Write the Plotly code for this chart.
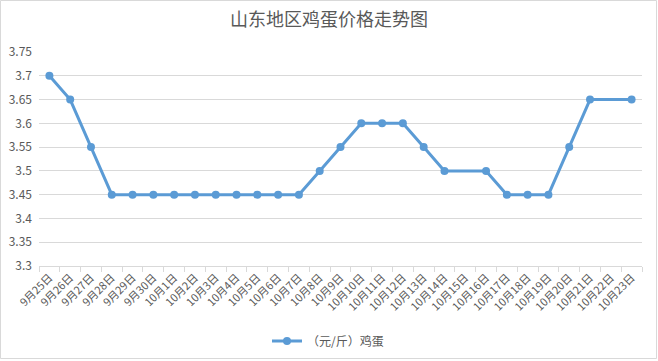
import plotly.graph_objects as go

dates = ["9月25日", "9月26日", "9月27日", "9月28日", "9月29日", "9月30日",
         "10月1日", "10月2日", "10月3日", "10月4日", "10月5日", "10月6日", "10月7日",
         "10月8日", "10月9日", "10月10日", "10月11日", "10月12日", "10月13日",
         "10月14日", "10月15日", "10月16日", "10月17日", "10月18日", "10月19日",
         "10月20日", "10月21日", "10月22日", "10月23日"]
prices = [3.7, 3.65, 3.55, 3.45, 3.45, 3.45,
          3.45, 3.45, 3.45, 3.45, 3.45, 3.45, 3.45,
          3.5, 3.55, 3.6, 3.6, 3.6, 3.55,
          3.5, None, 3.5, 3.45, 3.45, 3.45,
          3.55, 3.65, None, 3.65]
series_name = "（元/斤）鸡蛋"
title_text = "山东地区鸡蛋价格走势图"
y_ticks = [3.3, 3.35, 3.4, 3.45, 3.5, 3.55, 3.6, 3.65, 3.7, 3.75]
y_labels = ["3.3", "3.35", "3.4", "3.45", "3.5", "3.55", "3.6", "3.65", "3.7", "3.75"]

W, H = 658, 361
L, R, T, B = 39, 16, 52, 95
pw, ph = W - L - R, H - T - B

FONT = "Microsoft YaHei, Noto Sans CJK SC, sans-serif"
GREY = "#595959"
LINE = "#d9d9d9"
BLUE = "#5B9BD5"

fig = go.Figure()
fig.add_trace(go.Scatter(
    x=dates, y=prices, name=series_name, mode="lines+markers",
    connectgaps=True,
    line=dict(color=BLUE, width=3),
    marker=dict(color=BLUE, size=8),
    showlegend=True,
))

fig.update_layout(
    width=W, height=H,
    margin=dict(l=L, r=R, t=T, b=B, autoexpand=False),
    paper_bgcolor="white", plot_bgcolor="white",
    font=dict(family=FONT, color=GREY, size=12),
    title=dict(text=title_text, x=0.5, xanchor="center", y=1 - 20 / H, yanchor="middle",
               font=dict(family=FONT, size=18, color=GREY)),
    showlegend=True,
    legend=dict(orientation="h", xref="container", yref="container",
                x=328 / W, xanchor="center",
                y=1 - 341 / H, yanchor="middle",
                font=dict(family=FONT, size=12, color=GREY),
                bgcolor="rgba(0,0,0,0)"),
    xaxis=dict(
        type="category", range=[-0.5, len(dates) - 0.5],
        showgrid=False, showline=True, linecolor=LINE, linewidth=1,
        ticks="outside", tickson="boundaries", ticklen=5, tickcolor=LINE,
        tickangle=-45, tickfont=dict(family=FONT, size=11, color=GREY),
        zeroline=False, fixedrange=True, automargin=False,
    ),
    yaxis=dict(
        range=[3.3, 3.75], tickvals=y_ticks, ticktext=y_labels,
        showgrid=True, gridcolor=LINE, gridwidth=1, showline=False, zeroline=False,
        ticks="", ticklabelstandoff=6, tickfont=dict(family=FONT, size=12, color=GREY),
        fixedrange=True, automargin=False,
    ),
    shapes=[dict(type="rect", xref="paper", yref="paper",
                 x0=(0.5 - L) / pw, x1=(W - 1.5 - L) / pw,
                 y0=-(B - 2.5) / ph, y1=1 + (T - 0.5) / ph,
                 line=dict(color=LINE, width=1), fillcolor="rgba(0,0,0,0)", layer="below")],
)

fig.write_html("out.html",
               config={"displayModeBar": False, "staticPlot": True},
               post_script="document.body.style.margin='0';document.body.style.overflow='hidden';")
